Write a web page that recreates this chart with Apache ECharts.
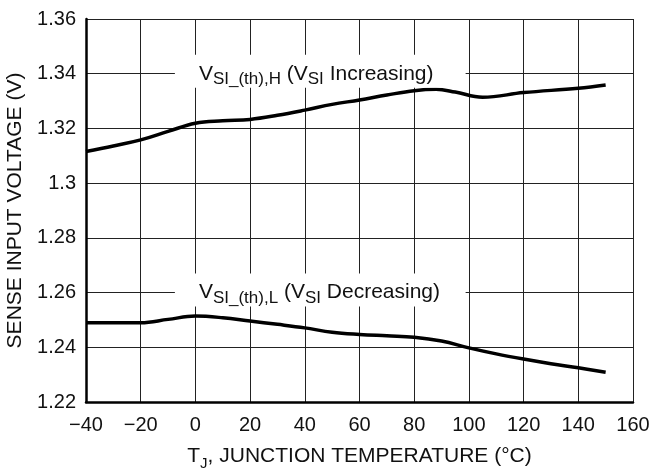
<!DOCTYPE html>
<html>
<head>
<meta charset="utf-8">
<script src="https://cdn.jsdelivr.net/npm/echarts@6/dist/echarts.min.js"></script>
<style>
html,body{margin:0;padding:0;background:#fff;}
#c{width:655px;height:472px;}
</style>
</head>
<body>
<div id="c"></div>
<script>
// ---- data ----
const xTicks = [-40, -20, 0, 20, 40, 60, 80, 100, 120, 140, 160];
const yTicks = ['1.22', '1.24', '1.26', '1.28', '1.3', '1.32', '1.34', '1.36'];
const tempH = [-40, -30, -20, -10, 0, 10, 20, 30, 40, 50, 60, 70, 80, 88, 95, 105, 120, 140, 150];
const vHigh = [1.3116, 1.3136, 1.3158, 1.3189, 1.3219, 1.3228, 1.3233, 1.3248, 1.3267, 1.3288, 1.3304, 1.3322, 1.3338, 1.3343, 1.3333, 1.3314, 1.3331, 1.3347, 1.3359];
const tempL = [-40, -20, -10, 0, 10, 20, 30, 40, 50, 60, 70, 80, 90, 100, 110, 120, 130, 140, 150];
const vLow = [1.2490, 1.2490, 1.2502, 1.2514, 1.2508, 1.2496, 1.2484, 1.2471, 1.2455, 1.2447, 1.2442, 1.2437, 1.2423, 1.2398, 1.2376, 1.2357, 1.2340, 1.2325, 1.2309];
const labelHigh = ['V', 'SI_(th),H', ' (V', 'SI', ' Increasing)'];
const labelLow = ['V', 'SI_(th),L', ' (V', 'SI', ' Decreasing)'];

const FONT = '"Liberation Sans", Arial, Helvetica, sans-serif';
const chart = echarts.init(document.getElementById('c'), null, {renderer: 'canvas'});

function pairs(xs, ys) { return xs.map((x, i) => [x, ys[i]]); }
function fmtX(v) { return v < 0 ? '\u2212' + Math.abs(v) : String(v); }
function fmtY(v) {
  const s = parseFloat(Number(v).toFixed(2)).toString();
  const idx = yTicks.indexOf(s);
  return idx >= 0 ? yTicks[idx] : s;
}

const option = {
  animation: false,
  backgroundColor: '#fff',
  grid: {left: 86, right: 22, top: 19, bottom: 70, containLabel: false, outerBoundsMode: 'none'},
  xAxis: {
    type: 'value', min: xTicks[0], max: xTicks[xTicks.length - 1], interval: 20,
    axisLine: {show: true, onZero: false, lineStyle: {color: '#000', width: 2.5}},
    axisTick: {show: false},
    axisLabel: {color: '#111', fontFamily: FONT, fontSize: 20, margin: 13, formatter: fmtX},
    splitLine: {show: true, lineStyle: {color: '#222', width: 1}},
    name: '{n|T}{s|J}{n|, JUNCTION TEMPERATURE (\u00B0C)}',
    nameLocation: 'middle', nameGap: 41,
    nameTextStyle: {
      rich: {
        n: {fontFamily: FONT, fontSize: 21, color: '#111', lineHeight: 24, verticalAlign: 'bottom'},
        s: {fontFamily: FONT, fontSize: 15, color: '#111', lineHeight: 14, verticalAlign: 'bottom', padding: [0, 0, -4, 0]}
      }
    }
  },
  yAxis: {
    type: 'value', min: 1.22, max: 1.36, interval: 0.02,
    axisLine: {show: true, onZero: false, lineStyle: {color: '#000', width: 2.5}},
    axisTick: {show: false},
    axisLabel: {color: '#111', fontFamily: FONT, fontSize: 20, margin: 10, formatter: fmtY},
    splitLine: {show: true, lineStyle: {color: '#222', width: 1}},
    name: 'SENSE INPUT VOLTAGE (V)',
    nameLocation: 'middle', nameGap: 55, nameRotate: 90,
    nameTextStyle: {fontFamily: FONT, fontSize: 21, color: '#111'}
  },
  series: [
    {type: 'line', data: pairs(tempH, vHigh), smooth: 0.4, symbol: 'none',
     lineStyle: {color: '#000', width: 3.5}, z: 3},
    {type: 'line', data: pairs(tempL, vLow), smooth: 0.4, symbol: 'none',
     lineStyle: {color: '#000', width: 3.5}, z: 3}
  ]
};
chart.setOption(option);

function richLabel(parts) {
  return '{m|' + parts[0] + '}{s|' + parts[1] + '}{m|' + parts[2] + '}{s|' + parts[3] + '}{m|' + parts[4] + '}';
}
function makeLabel(parts, yVal) {
  const pL = chart.convertToPixel({gridIndex: 0}, [-7.5, yVal]);
  const pR = chart.convertToPixel({gridIndex: 0}, [98.8, yVal]);
  const top = pL[1] - 19;
  const h = 33;
  return [
    {type: 'rect', shape: {x: pL[0], y: top, width: pR[0] - pL[0], height: h},
     style: {fill: '#fff'}, z: 10},
    {type: 'text', x: pL[0] + 24, y: top + h / 2 + 1, z: 11,
     style: {
       text: richLabel(parts), verticalAlign: 'middle', align: 'left',
       rich: {
         m: {fontFamily: FONT, fontSize: 21, fill: '#111', lineHeight: 24, verticalAlign: 'bottom'},
         s: {fontFamily: FONT, fontSize: 17, fill: '#111', lineHeight: 16, verticalAlign: 'bottom', padding: [0, 0, -4, 0]}
       }
     }}
  ];
}
chart.setOption({graphic: [].concat(makeLabel(labelHigh, 1.34), makeLabel(labelLow, 1.26))});
</script>
</body>
</html>
